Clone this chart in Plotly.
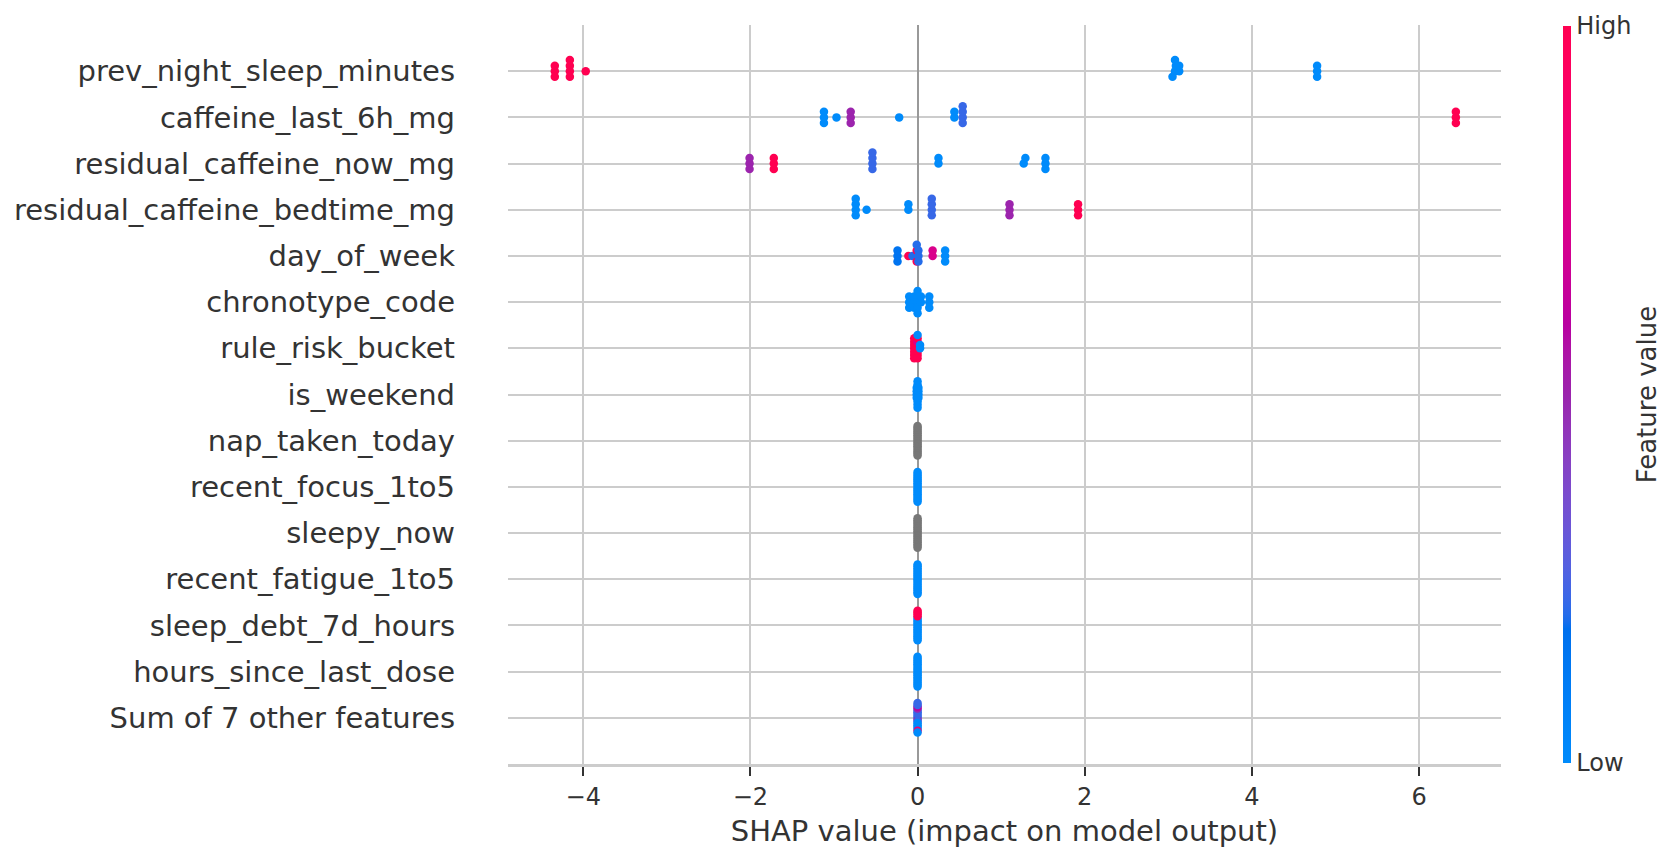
import numpy as np
import plotly.graph_objects as go

# ---------------- data (top row first) ----------------
FEATURES = [
    "prev_night_sleep_minutes", "caffeine_last_6h_mg", "residual_caffeine_now_mg",
    "residual_caffeine_bedtime_mg", "day_of_week", "chronotype_code", "rule_risk_bucket",
    "is_weekend", "nap_taken_today", "recent_focus_1to5", "sleepy_now",
    "recent_fatigue_1to5", "sleep_debt_7d_hours", "hours_since_last_dose",
    "Sum of 7 other features",
]
X_TICKS = [-4, -2, 0, 2, 4, 6]

N = None  # missing feature value (drawn grey)

prev_night_shap = [-4.34, -4.34, -4.34, -4.16, -4.16, -4.16, -4.16, -3.97,
                   3.08, 3.09, 3.05, 3.08, 3.13, 3.13, 4.78, 4.78, 4.78]
prev_night_fval = [1, 1, 1, 1, 1, 1, 1, 1, 0, 0, 0, 0, 0, 0, 0, 0, 0]

caffeine_6h_shap = [-1.12, -1.12, -1.12, -0.97, -0.80, -0.80, -0.80, -0.22,
                    0.44, 0.44, 0.54, 0.54, 0.54, 0.54, 6.44, 6.44, 6.44]
caffeine_6h_fval = [0, 0, 0, 0, 0.5, 0.5, 0.5, 0, 0, 0, 0.22, 0.22, 0.22, 0.22, 1, 1, 1]

resid_now_shap = [-2.01, -2.01, -2.01, -1.72, -1.72, -1.72, -0.54, -0.54, -0.54, -0.54,
                  0.25, 0.25, 1.27, 1.29, 1.53, 1.53, 1.53]
resid_now_fval = [0.5, 0.5, 0.5, 1, 1, 1, 0.22, 0.22, 0.22, 0.22, 0, 0, 0, 0, 0, 0, 0]

resid_bed_shap = [-0.74, -0.74, -0.74, -0.74, -0.61, -0.11, -0.11, 0.17, 0.17, 0.17, 0.17,
                  1.10, 1.10, 1.10, 1.92, 1.92, 1.92]
resid_bed_fval = [0, 0, 0, 0, 0, 0, 0, 0.22, 0.22, 0.22, 0.22, 0.5, 0.5, 0.5, 1, 1, 1]

dow_shap = [-0.24, -0.24, -0.24, -0.11, -0.06, -0.01, -0.01, -0.01, -0.01,
            0.01, 0.01, 0.01, 0.18, 0.18, 0.33, 0.33, 0.33]
dow_fval = [0.15, 0.15, 0.15, 1, 0.2, 0.2, 1, 1, 0.2, 0.2, 0.2, 0.2, 0.72, 0.72, 0, 0, 0]

chrono_shap = [-0.10, -0.10, -0.10, -0.07, -0.04, -0.04, -0.04, 0.0, 0.0, 0.0, 0.0, 0.0,
               0.04, 0.04, 0.14, 0.14, 0.14]
chrono_fval = [0] * 17

risk_shap = [-0.04] * 7 + [0.0] * 8 + [0.03, 0.03]
risk_fval = [1] * 7 + [1, 1, 1, 0.72, 1, 1, 1, 0] + [0, 0]

weekend_shap = [-0.01] * 4 + [0.0] * 9 + [0.01] * 4
weekend_fval = [0] * 17

nap_shap = [0.0] * 17
nap_fval = [N] * 17

focus_shap = [0.0] * 17
focus_fval = [0] * 17

sleepy_shap = [0.0] * 17
sleepy_fval = [N] * 17

fatigue_shap = [0.0] * 17
fatigue_fval = [0] * 17

debt_shap = [0.0] * 17
debt_fval = [0, 0, 0, 0, 0, 0, 0, 0, 0, 1, 0, 1, 0, 1, 0, 1, 0]

since_dose_shap = [0.0] * 17
since_dose_fval = [0] * 17

other_shap = [0.0] * 17
other_fval = [0.22, 0.22, 0.5, 0.22, 0.22, 0.22, 0, 0.22, 0, 0.5, 0, 0.6, 0, 0.22, 0.85, 0.22, 0]

ROWS = [
    (prev_night_shap, prev_night_fval), (caffeine_6h_shap, caffeine_6h_fval),
    (resid_now_shap, resid_now_fval), (resid_bed_shap, resid_bed_fval),
    (dow_shap, dow_fval), (chrono_shap, chrono_fval), (risk_shap, risk_fval),
    (weekend_shap, weekend_fval), (nap_shap, nap_fval), (focus_shap, focus_fval),
    (sleepy_shap, sleepy_fval), (fatigue_shap, fatigue_fval), (debt_shap, debt_fval),
    (since_dose_shap, since_dose_fval), (other_shap, other_fval),
]


# ---------------- shap red_blue colormap (LCH interpolation) ----------------
def lab2rgb(L, a, b):
    fy = (L + 16) / 116.0
    fx = fy + a / 500.0
    fz = fy - b / 200.0

    def finv(t):
        return t ** 3 if t ** 3 > 0.008856 else (t - 16 / 116.0) / 7.787

    X, Y, Z = 0.95047 * finv(fx), finv(fy), 1.08883 * finv(fz)
    rgb = [3.2406 * X - 1.5372 * Y - 0.4986 * Z,
           -0.9689 * X + 1.8758 * Y + 0.0415 * Z,
           0.0557 * X - 0.2040 * Y + 1.0570 * Z]
    out = []
    for c in rgb:
        c = 1.055 * c ** (1 / 2.4) - 0.055 if c > 0.0031308 else 12.92 * c
        out.append(int(round(min(max(c, 0), 1) * 255)))
    return out


blue_lch = [54.0, 70.0, 4.6588]
red_lch = [54.0, 90.0, 0.35470565 + 2 * np.pi]
l_mid = 40.0
nsteps = 100
l_vals = list(np.linspace(blue_lch[0], l_mid, nsteps // 2)) + list(np.linspace(l_mid, red_lch[0], nsteps // 2))
c_vals = np.linspace(blue_lch[1], red_lch[1], nsteps)
h_vals = np.linspace(blue_lch[2], red_lch[2], nsteps)
colorscale = []
for pos, l, c, h in zip(np.linspace(0, 1, nsteps), l_vals, c_vals, h_vals):
    r, g, b = lab2rgb(l, c * np.cos(h), c * np.sin(h))
    colorscale.append([float(pos), f"rgb({r},{g},{b})"])


# ---------------- beeswarm layout ----------------
def swarm_offsets(vals, row_height=0.4, nbins=100):
    v = np.asarray(vals, float)
    quant = np.round(nbins * (v - v.min()) / (v.max() - v.min() + 1e-8))
    inds = np.argsort(quant, kind="stable")
    ys = np.zeros(len(v))
    layer, last = 0, None
    for i in inds:
        if quant[i] != last:
            layer = 0
        ys[i] = np.ceil(layer / 2) * ((layer % 2) * 2 - 1)
        layer += 1
        last = quant[i]
    ys *= 0.9 * (row_height / np.max(ys + 1))
    return ys


nf = len(FEATURES)
cx, cy, cc, gx, gy = [], [], [], [], []
for k, (sv, fv) in enumerate(ROWS):
    pos = nf - 1 - k
    off = swarm_offsets(sv)
    for s, f, o in zip(sv, fv, off):
        if f is None:
            gx.append(s); gy.append(pos + o)
        else:
            cx.append(s); cy.append(pos + o); cc.append(f)

TXT = "#333333"
FONT = "DejaVu Sans"

fig = go.Figure()
fig.add_trace(go.Scatter(
    x=gx, y=gy, mode="markers", hoverinfo="skip", showlegend=False,
    marker=dict(size=8.5, color="#777777", line=dict(width=0)),
))
fig.add_trace(go.Scatter(
    x=cx, y=cy, mode="markers", hoverinfo="skip", showlegend=False,
    marker=dict(
        size=8.5, color=cc, colorscale=colorscale, cmin=0, cmax=1, line=dict(width=0),
        showscale=True,
        colorbar=dict(
            thickness=8, len=737, lenmode="pixels", x=1.0624, xanchor="left", xpad=0,
            y=0.5, yanchor="middle", ypad=0, outlinewidth=0,
            tickvals=[0, 1], ticktext=["Low", "High"], ticks="",
            tickfont=dict(family=FONT, size=24, color=TXT),
        ),
    ),
))

fig.add_annotation(
    text="Feature value", xref="paper", yref="paper", x=1.164, y=0.5,
    textangle=-90, showarrow=False, font=dict(family=FONT, size=26, color=TXT),
)

fig.update_layout(
    width=1670, height=854,
    margin=dict(l=500, r=177, t=17, b=98, autoexpand=False),
    plot_bgcolor="white", paper_bgcolor="white",
    font=dict(family=FONT, color=TXT),
    xaxis=dict(
        range=[-4.90, 6.98], tickvals=X_TICKS, showgrid=True, gridcolor="#cccccc", gridwidth=2,
        zeroline=True, zerolinecolor="#999999", zerolinewidth=2,
        showline=True, linecolor="#cccccc", linewidth=2.5, automargin=False,
        ticks="outside", ticklen=9, tickwidth=2, tickcolor=TXT,
        tickfont=dict(family=FONT, size=24, color=TXT),
        title=dict(text="SHAP value (impact on model output)", standoff=12,
                   font=dict(family=FONT, size=29, color=TXT)),
    ),
    yaxis=dict(
        range=[-1, nf], tickvals=list(range(nf)), ticktext=FEATURES[::-1],
        showgrid=True, gridcolor="#cccccc", gridwidth=2, zeroline=False, showline=False,
        ticks="", ticklabelstandoff=52, automargin=False,
        tickfont=dict(family=FONT, size=29, color=TXT),
    ),
)

fig.write_html("out.html")
